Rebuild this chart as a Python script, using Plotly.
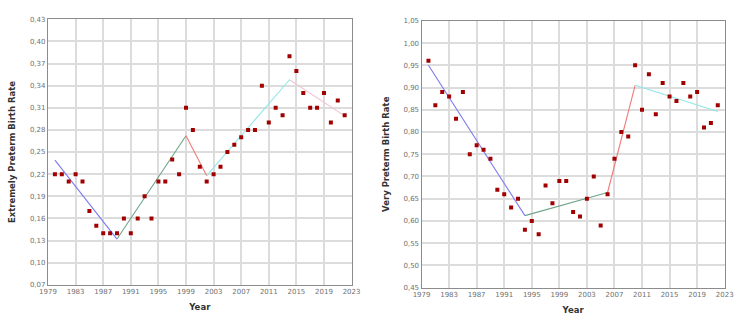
import plotly.graph_objects as go

years = list(range(1980, 2023))

extremely_rate = [0.22, 0.22, 0.21, 0.22, 0.21, 0.17, 0.15, 0.14, 0.14, 0.14,
                  0.16, 0.14, 0.16, 0.19, 0.16, 0.21, 0.21, 0.24, 0.22, 0.31,
                  0.28, 0.23, 0.21, 0.22, 0.23, 0.25, 0.26, 0.27, 0.28, 0.28,
                  0.34, 0.29, 0.31, 0.30, 0.38, 0.36, 0.33, 0.31, 0.31, 0.33,
                  0.29, 0.32, 0.30]

very_rate = [0.96, 0.86, 0.89, 0.88, 0.83, 0.89, 0.75, 0.77, 0.76, 0.74,
             0.67, 0.66, 0.63, 0.65, 0.58, 0.60, 0.57, 0.68, 0.64, 0.69,
             0.69, 0.62, 0.61, 0.65, 0.70, 0.59, 0.66, 0.74, 0.80, 0.79,
             0.95, 0.85, 0.93, 0.84, 0.91, 0.88, 0.87, 0.91, 0.88, 0.89,
             0.81, 0.82, 0.86]

# joinpoint trend: years of joinpoints and fitted values there
ext_join_years = [1980, 1989, 1999, 2002, 2014, 2022]
ext_join_fit = [0.239, 0.132, 0.272, 0.218, 0.348, 0.299]
very_join_years = [1980, 1994, 2006, 2010, 2022]
very_join_fit = [0.950, 0.612, 0.664, 0.905, 0.846]

segment_colors = ["#7b7bef", "#6fa58a", "#ef7b7b", "#8ee8e8", "#efc5d0"]

x_ticks = list(range(1979, 2024, 4))
ext_ticks = [0.07, 0.10, 0.13, 0.16, 0.19, 0.22, 0.25, 0.28, 0.31, 0.34, 0.37, 0.40, 0.43]
very_ticks = [0.45, 0.50, 0.55, 0.60, 0.65, 0.70, 0.75, 0.80, 0.85, 0.90, 0.95, 1.00, 1.05]

fig = go.Figure()

marker_style = dict(symbol="square", size=4, color="#a00000", line=dict(width=0))

def add_chart(xaxis, yaxis, rates, jy, jf):
    for i in range(len(jy) - 1):
        fig.add_trace(go.Scatter(x=[jy[i], jy[i + 1]], y=[jf[i], jf[i + 1]],
                                 mode="lines", line=dict(color=segment_colors[i], width=1.1),
                                 xaxis=xaxis, yaxis=yaxis, showlegend=False, hoverinfo="skip"))
    fig.add_trace(go.Scatter(x=years, y=rates, mode="markers", marker=marker_style,
                             xaxis=xaxis, yaxis=yaxis, showlegend=False))

add_chart("x", "y", extremely_rate, ext_join_years, ext_join_fit)
add_chart("x2", "y2", very_rate, very_join_years, very_join_fit)

tick_font = dict(family="DejaVu Sans", size=7, color="#707070")
title_font = dict(family="DejaVu Sans", size=8.5, color="#333333")

common_x = dict(range=[1979, 2023], tickvals=x_ticks, showgrid=True, gridcolor="#dcdcdc",
                gridwidth=1.5, showline=True, linecolor="#8c8c8c", linewidth=1.2, mirror=True,
                ticks="", zeroline=False, tickfont=tick_font,
                title=dict(text="<b>Year</b>", font=title_font, standoff=8))
common_y = dict(showgrid=True, gridcolor="#dcdcdc", gridwidth=1.5, showline=True,
                linecolor="#8c8c8c", linewidth=1.2, mirror=True, ticks="", zeroline=False,
                tickfont=tick_font, tickformat=".2f")

fig.update_layout(
    width=750, height=326,
    margin=dict(l=0, r=0, t=0, b=0),
    paper_bgcolor="white", plot_bgcolor="white",
    separators=",.",
    xaxis=dict(domain=[0.0533, 0.468], anchor="y", **common_x),
    yaxis=dict(domain=[0.117, 0.952], anchor="x", range=[0.07, 0.43], tickvals=ext_ticks,
               title=dict(text="<b>Extremely Preterm Birth Rate</b>", font=title_font, standoff=12),
               **common_y),
    xaxis2=dict(domain=[0.5636, 0.9777], anchor="y2", **common_x),
    yaxis2=dict(domain=[0.108, 0.947], anchor="x2", range=[0.45, 1.05], tickvals=very_ticks,
                title=dict(text="<b>Very Preterm Birth Rate</b>", font=title_font, standoff=12),
                **common_y),
)

fig.write_html("out.html", config={"displayModeBar": False},
               post_script="document.body.style.margin='0';document.body.style.overflow='hidden';")
